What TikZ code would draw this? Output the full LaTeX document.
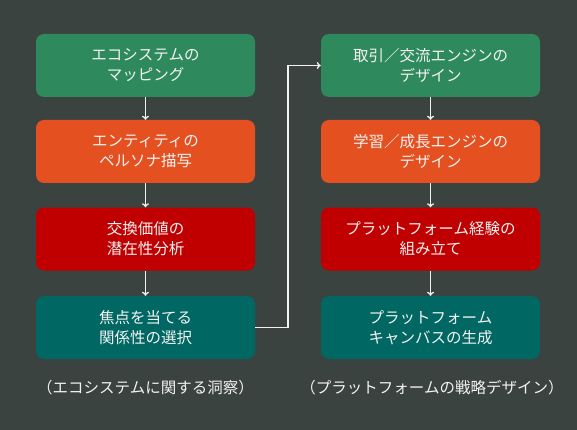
\documentclass[tikz,border=0pt]{standalone}
\usepackage{fontspec}
\setmainfont{Noto Sans CJK JP}
\usetikzlibrary{arrows.meta}
\definecolor{bg}{HTML}{3B4341}
\definecolor{cgreen}{HTML}{2E8A5C}
\definecolor{corange}{HTML}{E4501F}
\definecolor{cred}{HTML}{C00000}
\definecolor{cteal}{HTML}{006763}
\definecolor{ctext}{HTML}{F2F2F2}
\tikzset{
  stepbox/.style={draw=none, rounded corners=8pt, minimum width=219pt, minimum height=63pt,
    text=ctext, align=center, font=\fontsize{15.5}{20}\selectfont, inner sep=0pt},
  conn/.style={draw=ctext, line width=1.3pt, -{To[length=4pt,width=7pt]}},
  caption/.style={text=ctext, font=\fontsize{15.5}{20}\selectfont, inner sep=0pt}
}
\begin{document}
\begin{tikzpicture}[x=1pt,y=-1pt]
\fill[bg] (0,0) rectangle (577,430);
\useasboundingbox (0,0) rectangle (577,430);
\node[stepbox, fill=cgreen] (l1) at (145.5,65.5) {エコシステムの\\マッピング};
\node[stepbox, fill=corange] (l2) at (145.5,151.5) {エンティティの\\ペルソナ描写};
\node[stepbox, fill=cred] (l3) at (145.5,239) {交換価値の\\潜在性分析};
\node[stepbox, fill=cteal] (l4) at (145.5,327.5) {焦点を当てる\\関係性の選択};
\node[stepbox, fill=cgreen] (r1) at (430.5,65.5) {取引／交流エンジンの\\デザイン};
\node[stepbox, fill=corange] (r2) at (430.5,151.5) {学習／成長エンジンの\\デザイン};
\node[stepbox, fill=cred] (r3) at (430.5,239) {プラットフォーム経験の\\組み立て};
\node[stepbox, fill=cteal] (r4) at (430.5,327.5) {プラットフォーム\\キャンバスの生成};
\node[caption] (cl) at (145.5,388) {（エコシステムに関する洞察）};
\node[caption] (cr) at (432,388) {（プラットフォームの戦略デザイン）};
\draw[conn] (l1) -- (l2);
\draw[conn] (l2) -- (l3);
\draw[conn] (l3) -- (l4);
\draw[conn] (r1) -- (r2);
\draw[conn] (r2) -- (r3);
\draw[conn] (r3) -- (r4);
\coordinate (k1) at (288,327.5);
\coordinate (k2) at (288,65.5);
\draw[conn] (l4.east) -- (k1) -- (k2) -- (r1.west);
\end{tikzpicture}
\end{document}
